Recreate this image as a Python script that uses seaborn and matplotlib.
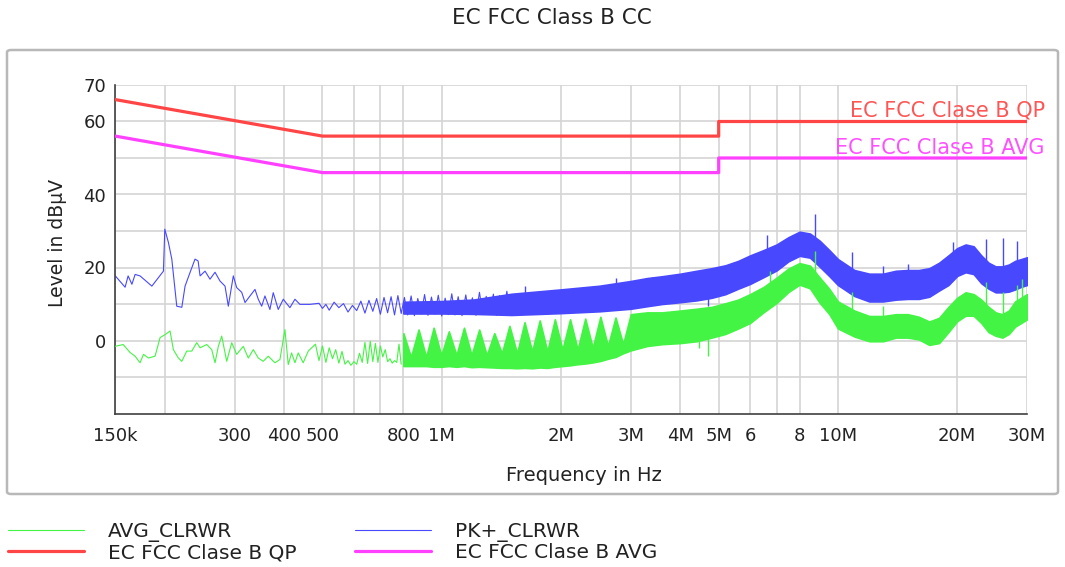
import numpy as np
import pandas as pd
import matplotlib
matplotlib.use("Agg")
import matplotlib.pyplot as plt
import seaborn as sns
from matplotlib.ticker import FixedLocator, FixedFormatter, NullLocator
from matplotlib.patches import FancyBboxPatch
from matplotlib.transforms import blended_transform_factory

# ---------------- data (frequencies in MHz, levels in dBuV) ----------------
pk_line_f = [0.150, 0.1588, 0.1616, 0.1652, 0.1683, 0.1732, 0.1855, 0.1984, 0.200, 0.2043,
             0.2083, 0.2144, 0.2208, 0.2250, 0.2317, 0.2384, 0.2427, 0.2455, 0.2527, 0.2601,
             0.2678, 0.2756, 0.2838, 0.2893, 0.2978, 0.3037, 0.3127, 0.3188, 0.3281, 0.3378,
             0.3443, 0.3512, 0.3579, 0.3684, 0.3756, 0.3867, 0.3981, 0.4138, 0.4261, 0.4386,
             0.4649, 0.49, 0.50, 0.51, 0.52, 0.535, 0.55, 0.565, 0.58, 0.595,
             0.61, 0.625, 0.64, 0.655, 0.67, 0.685, 0.70, 0.715, 0.73, 0.745,
             0.76, 0.775, 0.79, 0.805, 0.82, 0.837, 0.853, 0.87, 0.888, 0.905,
             0.923, 0.942, 0.961, 0.98, 1.0, 1.02, 1.04, 1.06, 1.08, 1.10,
             1.125, 1.15, 1.17, 1.195, 1.22, 1.245, 1.27, 1.295, 1.32, 1.35,
             1.375, 1.40, 1.43, 1.46, 1.49]
pk_line_v = [17.7, 14.6, 17.7, 15.4, 18.1, 17.7, 14.9, 19.0, 30.5, 26.8,
             22.3, 9.4, 9.1, 14.9, 18.7, 22.3, 21.8, 17.7, 19.0, 16.8,
             18.7, 16.3, 14.9, 9.4, 17.7, 14.5, 13.2, 10.4, 12.2, 14.0,
             11.3, 9.4, 12.2, 8.5, 13.1, 8.5, 11.3, 9.0, 11.3, 9.9,
             9.9, 10.2, 8.8, 9.9, 8.3, 10.5, 9.0, 10.1, 7.8, 9.6,
             8.2, 10.8, 7.5, 11.0, 8.0, 11.5, 7.2, 11.8, 7.6, 12.0,
             7.0, 12.3, 7.4, 11.8, 7.0, 12.2, 6.8, 11.5, 7.3, 12.6,
             6.9, 11.9, 7.2, 12.4, 6.7, 11.6, 7.1, 12.8, 7.0, 12.0,
             6.8, 12.5, 7.4, 11.7, 6.9, 13.2, 7.1, 12.1, 7.3, 12.7,
             6.9, 12.3, 7.5, 13.5, 7.2]

pk_env_f = [0.8, 1.0, 1.2, 1.5, 2.0, 2.5, 3.0, 3.3, 3.6, 4.0, 4.4, 4.8, 5.2, 5.6, 6.0, 6.5,
            7.0, 7.5, 8.0, 8.5, 9.0, 9.5, 10, 11, 12, 13, 14, 15, 16, 17, 18, 19, 20, 21,
            22, 23, 24, 25, 26, 27, 28, 29, 30]
pk_hi = [10.6, 10.8, 11.2, 12.8, 14.0, 15.0, 16.3, 17.1, 17.6, 18.3, 19.1, 19.8, 20.6, 21.8,
         23.3, 24.8, 26.3, 28.3, 29.8, 29.3, 27.3, 24.8, 22.3, 19.3, 18.3, 18.3, 19.1, 19.3,
         19.3, 19.8, 21.3, 23.3, 25.3, 26.3, 25.8, 23.3, 21.3, 20.3, 20.3, 20.8, 21.8, 22.3,
         22.8]
pk_lo = [7.4, 7.4, 7.3, 7.0, 7.5, 8.0, 8.7, 9.4, 10.0, 10.5, 11.0, 11.7, 12.7, 14.2, 15.5,
         17.4, 19.2, 21.7, 23.2, 22.7, 20.2, 17.7, 15.2, 12.2, 10.7, 10.7, 11.2, 11.4, 11.4,
         12.0, 13.7, 15.2, 17.7, 18.7, 18.2, 15.7, 14.2, 13.2, 13.2, 13.4, 14.0, 14.7, 15.2]

pk_spike_f = [1.62, 2.75, 3.4, 4.45, 4.7, 6.61, 8.75, 10.85, 12.97, 15.02, 19.5, 23.7, 26.1, 28.3]
pk_spike_lo = [12.0, 14.0, 14.0, 12.0, 9.4, 20.0, 26.0, 15.0, 12.0, 13.0, 24.0, 16.0, 15.0, 16.0]
pk_spike_hi = [15.0, 17.0, 17.3, 19.0, 13.0, 29.0, 34.6, 24.2, 20.5, 20.9, 26.9, 27.7, 28.2, 27.2]

avg_line_f = [0.150, 0.1570, 0.1635, 0.1683, 0.1732, 0.1767, 0.1819, 0.1890, 0.1946, 0.2003,
              0.2062, 0.2102, 0.2164, 0.2208, 0.2272, 0.2339, 0.2408, 0.2455, 0.2552, 0.2627,
              0.2678, 0.2730, 0.2784, 0.2866, 0.2951, 0.3037, 0.3156, 0.3249, 0.3345, 0.3443,
              0.3544, 0.3649, 0.3793, 0.3905, 0.4020, 0.4098, 0.4179, 0.4261, 0.4343, 0.4470,
              0.4604, 0.48, 0.49, 0.50, 0.51, 0.52, 0.53, 0.54, 0.55, 0.56,
              0.57, 0.58, 0.59, 0.60, 0.61, 0.62, 0.63, 0.64, 0.65, 0.66,
              0.67, 0.68, 0.69, 0.70, 0.71, 0.72, 0.73, 0.74, 0.75, 0.76,
              0.77, 0.78, 0.79]
avg_line_v = [-1.6, -1.1, -3.3, -4.3, -6.1, -3.8, -4.8, -4.3, 0.8, 1.6,
              2.6, -2.5, -4.8, -5.7, -2.9, -2.9, -0.6, -2.0, -1.1, -2.5,
              -6.1, -1.6, 1.2, -5.7, -0.6, -3.8, -1.6, -4.8, -2.5, -4.8,
              -5.7, -4.3, -6.1, -5.2, 3.0, -6.6, -3.4, -6.1, -3.4, -6.1,
              -2.9, -1.0, -5.5, -1.5, -6.0, -2.0, -5.0, -2.5, -6.2, -3.0,
              -6.5, -5.5, -6.8, -5.8, -6.5, -3.5, -6.0, -0.5, -6.3, -0.2,
              -5.8, -0.8, -6.0, -1.5, -4.5, -2.5, -5.8, -5.0, -6.2, -5.5,
              -6.0, -1.0, -6.5]

avg_env_f = [0.80, 0.836, 0.874, 0.913, 0.954, 0.997, 1.042, 1.089, 1.138, 1.189,
             1.243, 1.299, 1.357, 1.418, 1.482, 1.549, 1.618, 1.691, 1.767, 1.847,
             1.930, 2.017, 2.108, 2.203, 2.302, 2.405, 2.514, 2.627, 2.745, 2.869,
             3.0, 3.3, 3.6, 4.0, 4.4, 4.8, 5.2, 5.6, 6.0, 6.5,
             7.0, 7.5, 8.0, 8.5, 9.0, 9.5, 10, 11, 12, 13,
             14, 15, 16, 17, 18, 19, 20, 21, 22, 23,
             24, 25, 26, 27, 28, 29, 30]
avg_hi = [2.0, -4.5, 3.0, -4.5, 3.5, -4.0, 2.5, -4.0, 3.5, -4.0,
          3.0, -4.0, 2.0, -3.5, 4.0, -3.5, 5.0, -3.0, 5.5, -3.0,
          5.8, -2.5, 5.8, -2.5, 6.0, -2.0, 6.5, -1.5, 6.3, -1.0,
          7.2, 7.7, 7.7, 8.2, 8.7, 9.2, 10.2, 11.2, 12.7, 14.7,
          17.2, 19.7, 21.2, 20.5, 17.2, 14.2, 10.7, 8.2, 6.7, 6.7,
          7.2, 7.2, 6.5, 5.2, 6.2, 9.2, 11.7, 13.2, 12.7, 11.2,
          9.2, 7.7, 7.2, 8.2, 10.7, 11.7, 12.7]
avg_lo = [-7.0, -7.0, -7.0, -7.0, -7.2, -7.2, -7.0, -7.2, -7.0, -7.3,
          -7.2, -7.3, -7.4, -7.5, -7.5, -7.6, -7.5, -7.6, -7.4, -7.5,
          -7.2, -7.0, -6.8, -6.5, -6.3, -6.0, -5.6, -5.0, -4.5, -3.5,
          -2.7, -1.5, -1.0, -0.7, -0.2, 0.8, 1.8, 3.3, 4.8, 7.8,
          10.3, 13.3, 15.3, 14.3, 10.3, 7.3, 3.3, 1.1, -0.2, -0.2,
          0.8, 0.8, 0.3, -1.2, -0.7, 2.3, 5.3, 6.8, 6.8, 4.8,
          2.3, 1.3, 0.8, 1.8, 3.8, 4.8, 5.8]

avg_spike_f = [4.45, 4.7, 6.74, 8.75, 10.85, 12.97, 23.7, 26.1, 28.3, 29.1]
avg_spike_lo = [-2.0, -4.3, 10.0, 16.0, 4.0, 2.0, 5.0, 3.0, 6.0, 7.0]
avg_spike_hi = [1.0, 1.5, 19.0, 24.5, 13.2, 9.4, 16.0, 13.2, 15.3, 16.8]

lim_f = [0.15, 0.5, 5.0, 5.0, 30.0]
qp_lim = [66, 56, 56, 60, 60]
avg_lim = [56, 46, 46, 50, 50]

xtick_f = [0.15, 0.2, 0.3, 0.4, 0.5, 0.6, 0.7, 0.8, 1, 2, 3, 4, 5, 6, 7, 8, 10, 20, 30]
xtick_lbl = ["150k", "", "300", "400", "500", "", "", "800", "1M", "2M", "3M", "4M",
             "5M", "6", "", "8", "10M", "20M", "30M"]
ytick_v = [-10, 0, 10, 20, 30, 40, 50, 60, 70]
ytick_lbl = ["", "0", "", "20", "", "40", "", "60", "70"]

# ---------------- styling ----------------
sns.set_theme(style="white")
plt.rcParams["font.family"] = ["DejaVu Sans"]

C_AVG = "#44f444"
C_PK = "#4848ff"
C_QP = "#ff4545"
C_AL = "#ff40ff"
MHZ = 1e6

W, H = 1065, 567
fig = plt.figure(figsize=(W / 100, H / 100), dpi=100)
ax = fig.add_axes([115.3 / W, (H - 413.5) / H, 911.7 / W, 328.5 / H])

def mhz(a):
    return np.asarray(a, dtype=float) * MHZ

# PK+ trace
ax.fill_between(mhz(pk_env_f), pk_lo, pk_hi, color=C_PK, lw=1.2, zorder=2)
pk_df = pd.DataFrame({"f": mhz(pk_line_f), "v": pk_line_v})
sns.lineplot(data=pk_df, x="f", y="v", ax=ax, color=C_PK, lw=0.8,
             estimator=None, sort=False, zorder=2)
pk_handle = ax.lines[-1]
ax.vlines(mhz(pk_spike_f), pk_spike_lo, pk_spike_hi, colors=C_PK, lw=1.0, zorder=2)

# AVG trace
ax.fill_between(mhz(avg_env_f), avg_lo, avg_hi, color=C_AVG, lw=1.2, zorder=3)
avg_df = pd.DataFrame({"f": mhz(avg_line_f), "v": avg_line_v})
sns.lineplot(data=avg_df, x="f", y="v", ax=ax, color=C_AVG, lw=0.8,
             estimator=None, sort=False, zorder=3)
avg_handle = ax.lines[-1]
ax.vlines(mhz(avg_spike_f), avg_spike_lo, avg_spike_hi, colors=C_AVG, lw=1.0, zorder=3)

# limit lines
lim_df = pd.DataFrame({"f": mhz(lim_f), "qp": qp_lim, "avg": avg_lim})
sns.lineplot(data=lim_df, x="f", y="qp", ax=ax, color=C_QP, lw=2.3,
             estimator=None, sort=False, zorder=4)
qp_handle = ax.lines[-1]
sns.lineplot(data=lim_df, x="f", y="avg", ax=ax, color=C_AL, lw=2.3,
             estimator=None, sort=False, zorder=4)
al_handle = ax.lines[-1]

# axes
ax.set_xscale("log")
ax.set_xlim(0.15 * MHZ, 30 * MHZ)
ax.set_ylim(-20, 70)
ax.xaxis.set_major_locator(FixedLocator(list(mhz(xtick_f))))
ax.xaxis.set_major_formatter(FixedFormatter(xtick_lbl))
ax.xaxis.set_minor_locator(NullLocator())
ax.yaxis.set_major_locator(FixedLocator(ytick_v))
ax.yaxis.set_major_formatter(FixedFormatter(ytick_lbl))
ax.grid(True, color="#d4d4d4", lw=1.2, zorder=0)
ax.set_axisbelow(True)
for s in ["top", "right"]:
    ax.spines[s].set_visible(False)
for s in ["left", "bottom"]:
    ax.spines[s].set_color("#404040")
    ax.spines[s].set_linewidth(1.2)
ax.tick_params(axis="x", direction="inout", length=15, width=1.1, color="#404040",
               labelsize=13, labelcolor="#222222", pad=2)
ax.tick_params(axis="y", direction="inout", length=11, width=1.1, color="#404040",
               labelsize=13, labelcolor="#222222", pad=1)
ax.set_xlabel("Frequency in Hz", fontsize=14, color="#222222", va="top")
ax.set_ylabel("Level in dB\u00b5V", fontsize=13.5, color="#222222")
ax.xaxis.set_label_coords((584 - 115.3) / 911.7, (413.5 - 466) / 328.5)
ax.yaxis.set_label_coords((67 - 115.3) / 911.7, 0.5205)

tr = blended_transform_factory(ax.transAxes, ax.transData)
ax.text(1.0197, 62.9, "EC FCC Clase B QP", transform=tr, ha="right", va="center",
        color="#ff5555", fontsize=15, clip_on=False)
ax.text(1.0197, 52.7, "EC FCC Clase B AVG", transform=tr, ha="right", va="center",
        color="#ff50ff", fontsize=15, clip_on=False)

if ax.get_legend() is not None:
    ax.get_legend().remove()

# title and frame
fig.text(552 / W, 1 - 18 / H, "EC FCC Class B CC", ha="center", va="center",
         fontsize=15.5, color="#222222")
frame = FancyBboxPatch((7 / W, (H - 494) / H), 1051 / W, 444 / H,
                       boxstyle="round,pad=0,rounding_size=0.004",
                       transform=fig.transFigure, fill=False, ec="#b8b8b8", lw=1.8)
fig.patches.append(frame)

# legend (two columns built as two legends)
common = dict(loc="center left", frameon=False, borderpad=0, borderaxespad=0,
              handlelength=3.8, handletextpad=1.2, labelspacing=0.05, fontsize=14.5,
              labelcolor="#222222")
fig.legend([avg_handle, qp_handle], ["AVG_CLRWR", "EC FCC Clase B QP"],
           bbox_to_anchor=(7.6 / W, (H - 542) / H), **common)
fig.legend([pk_handle, al_handle], ["PK+_CLRWR", "EC FCC Clase B AVG"],
           bbox_to_anchor=(354.7 / W, (H - 542) / H), **common)

fig.savefig("out.png", dpi=100)
